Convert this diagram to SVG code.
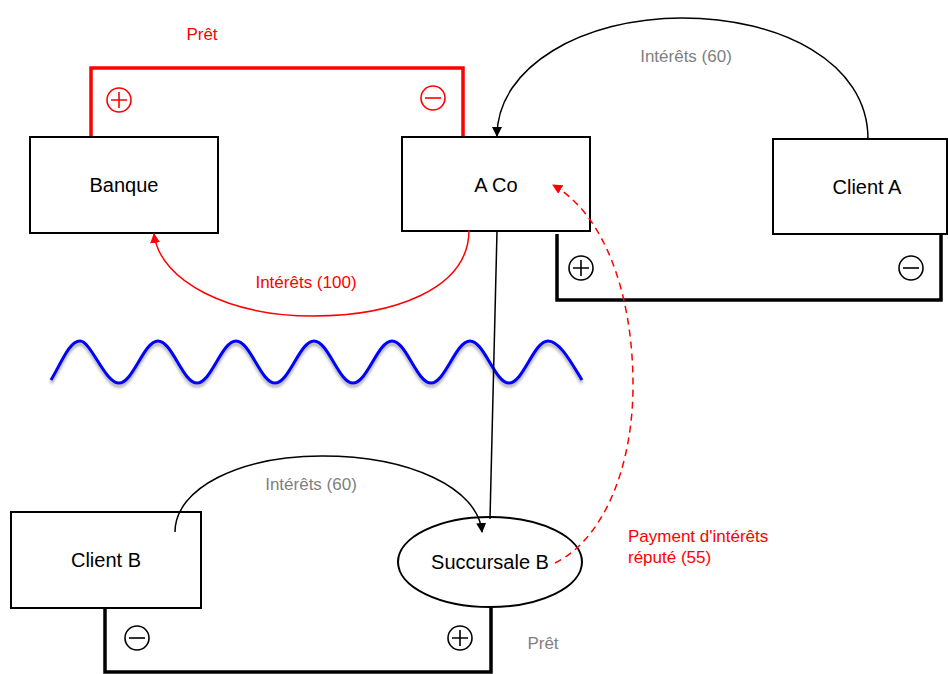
<svg xmlns="http://www.w3.org/2000/svg" width="948" height="674" viewBox="0 0 948 674">
  <style>
    .box { fill: none; stroke: #000; stroke-width: 2; }
    .lbl { font-family: "Liberation Sans", Arial, sans-serif; font-size: 20px; fill: #000; text-anchor: middle; dominant-baseline: central; }
    .note { font-family: "Liberation Sans", Arial, sans-serif; font-size: 17px; }
    .grey { fill: #808080; }
    .red { fill: #ff0000; }
    .bat { fill: none; stroke: #000; stroke-width: 3.5; stroke-linejoin: miter; }
    .bat-red { fill: none; stroke: #ff0000; stroke-width: 3.5; }
    .sign { fill: none; stroke-width: 1.6; }
    .flow { fill: none; stroke: #000; stroke-width: 1.5; }
    .flow-red { fill: none; stroke: #ff0000; stroke-width: 1.5; }
  </style>
  <defs>
    <marker id="arrow-black" viewBox="0 0 10 10" refX="9" refY="5" markerWidth="10" markerHeight="10" markerUnits="userSpaceOnUse" orient="auto">
      <path d="M0,0 L10,5 L0,10 z" fill="#000"/>
    </marker>
    <marker id="arrow-red" viewBox="0 0 10 10" refX="9" refY="5" markerWidth="10" markerHeight="10" markerUnits="userSpaceOnUse" orient="auto">
      <path d="M0,0 L10,5 L0,10 z" fill="#ff0000"/>
    </marker>
    <filter id="wave-shadow" x="-5%" y="-30%" width="110%" height="170%">
      <feGaussianBlur in="SourceAlpha" stdDeviation="1.5"/>
      <feOffset dx="0" dy="3" result="blur"/>
      <feComponentTransfer><feFuncA type="linear" slope="0.35"/></feComponentTransfer>
      <feMerge><feMergeNode/><feMergeNode in="SourceGraphic"/></feMerge>
    </filter>
    <g id="plus">
      <circle r="12" cx="0" cy="0"/>
      <path d="M-8,0 H8 M0,-8 V8"/>
    </g>
    <g id="minus">
      <circle r="12" cx="0" cy="0"/>
      <path d="M-8,0 H8"/>
    </g>
  </defs>

  <!-- loan batteries -->
  <g id="loan-bank">
    <path class="bat-red" d="M91,137 V68 H463 V137"/>
    <g class="sign" stroke="#ff0000"><use href="#plus" x="119" y="100"/><use href="#minus" x="433" y="98"/></g>
    <text class="note red" x="202" y="40" text-anchor="middle">Prêt</text>
  </g>
  <g id="loan-client-a">
    <path class="bat" d="M557,234 V300 H941 V234"/>
    <g class="sign" stroke="#000"><use href="#plus" x="581" y="268"/><use href="#minus" x="911" y="268"/></g>
  </g>
  <g id="loan-client-b">
    <path class="bat" d="M105,608 V672 H491 V608"/>
    <g class="sign" stroke="#000"><use href="#minus" x="137" y="638"/><use href="#plus" x="460" y="638"/></g>
    <text class="note grey" x="543" y="649" text-anchor="middle">Prêt</text>
  </g>

  <!-- border wave -->
  <path id="border" filter="url(#wave-shadow)" fill="none" stroke="#0000ff" stroke-width="3"
        d="M51,380 C61,364 69,341 80,341 s24.8,42 39,42 s24.8,-42 39,-42 s24.8,42 39,42 s24.8,-42 39,-42 s24.8,42 39,42 s24.8,-42 39,-42 s24.8,42 39,42 s24.8,-42 39,-42 s24.8,42 39,42 s24.8,-42 39,-42 s24.8,42 39,42 s24.8,-42 39,-42 C560,341 572,364 582,380"/>

  <!-- nodes -->
  <g id="banque">
    <rect class="box" x="30" y="137" width="188" height="96"/>
    <text class="lbl" x="124" y="185">Banque</text>
  </g>
  <g id="a-co">
    <rect class="box" x="402" y="137" width="188" height="94"/>
    <text class="lbl" x="496" y="185">A Co</text>
  </g>
  <g id="client-a">
    <rect class="box" x="773" y="139" width="174" height="95"/>
    <text class="lbl" x="867" y="187">Client A</text>
  </g>
  <g id="client-b">
    <rect class="box" x="11" y="512" width="190" height="96"/>
    <text class="lbl" x="106" y="560">Client B</text>
  </g>
  <g id="succursale-b">
    <ellipse cx="490" cy="562" rx="92" ry="45" fill="none" stroke="#000" stroke-width="2"/>
    <text class="lbl" x="490" y="562" font-size="18">Succursale B</text>
  </g>

  <!-- connectors -->
  <g id="connectors">
    <path class="flow" d="M868,139 C868,62 780,18 682,18 C584,18 497,66 497,136" marker-end="url(#arrow-black)"/>
    <path class="flow-red" d="M469,230 C469,290 392,316 313,316 C230,316 160,282 154,234" marker-end="url(#arrow-red)"/>
    <path class="flow" stroke-width="1.2" d="M497,231 L490,519"/>
    <path class="flow" d="M175,532 C175,488 240,456 322,456 C410,456 478,488 482,532" marker-end="url(#arrow-black)"/>
    <path class="flow-red" stroke-dasharray="7,5" d="M555,563 C602,540 633,470 633,385 C633,295 605,215 553,185" marker-end="url(#arrow-red)"/>
  </g>

  <!-- flow labels -->
  <g id="labels">
    <text class="note grey" x="686" y="62" text-anchor="middle">Intérêts (60)</text>
    <text class="note red" x="306" y="288" text-anchor="middle">Intérêts (100)</text>
    <text class="note grey" x="311" y="490" text-anchor="middle">Intérêts (60)</text>
    <text class="note red" x="628" y="542">Payment d'intérêts</text>
    <text class="note red" x="628" y="563">réputé (55)</text>
  </g>
</svg>
